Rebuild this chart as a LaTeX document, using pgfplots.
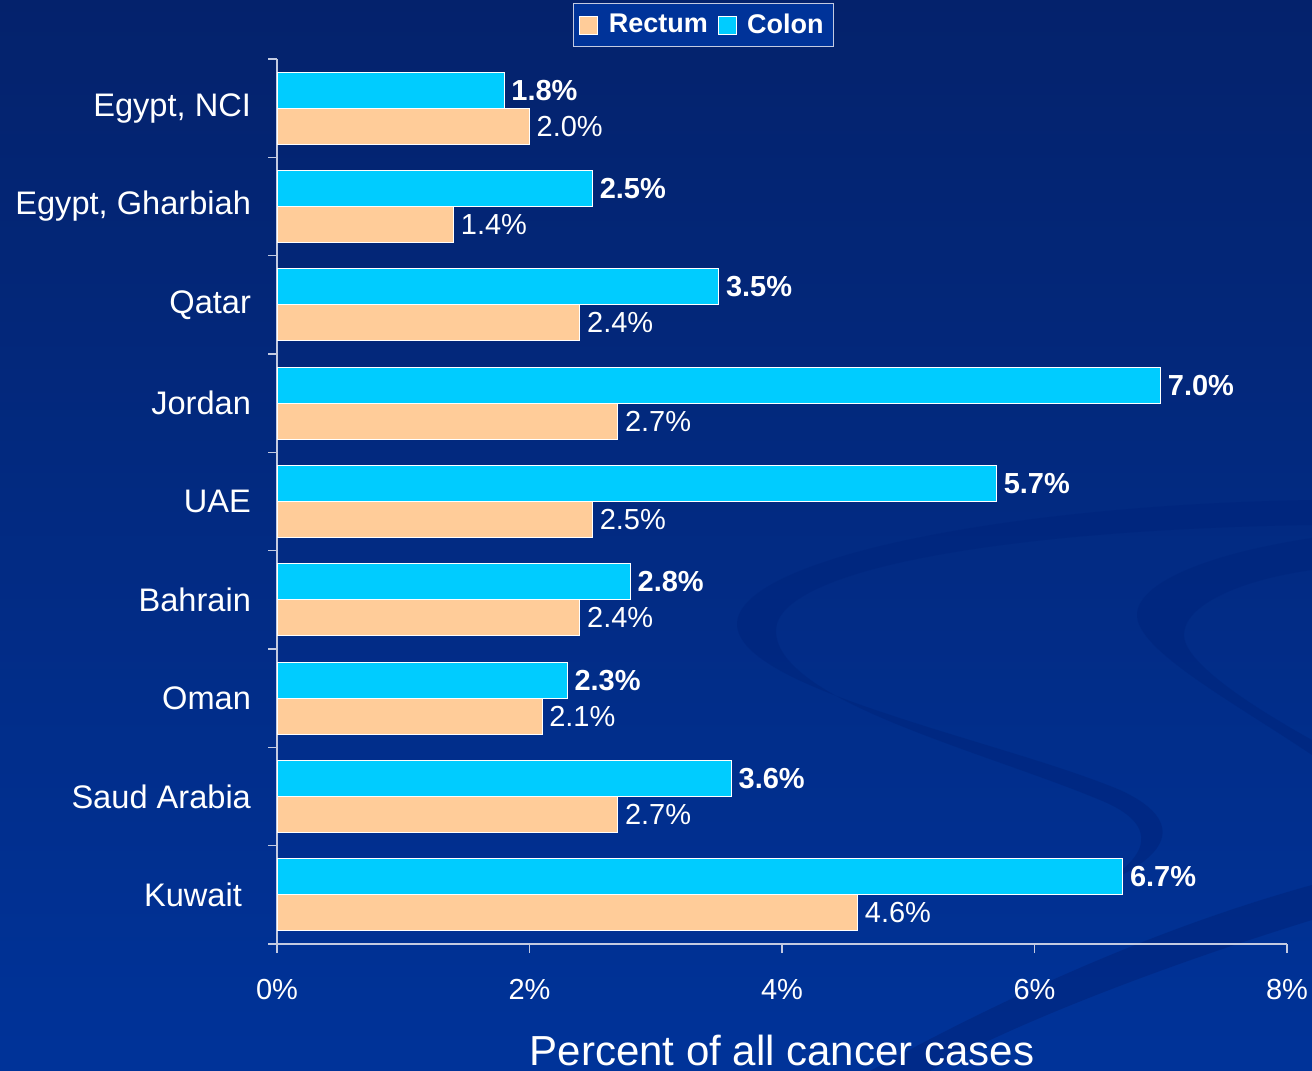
\documentclass[border=0pt]{standalone}
\usepackage{fontspec}
\setmainfont{Liberation Sans}
\usepackage{pgfplots}
\pgfplotsset{compat=1.18}
\definecolor{colon}{RGB}{0,204,255}
\definecolor{rectum}{RGB}{255,204,153}
\definecolor{bgtop}{RGB}{4,34,108}
\definecolor{bgbot}{RGB}{0,51,153}
\definecolor{axisgray}{RGB}{195,202,225}
\definecolor{swirl}{RGB}{0,36,124}
\begin{document}
\begin{tikzpicture}
\useasboundingbox (0,0) rectangle (656pt,535.5pt);
\shade[top color=bgtop, bottom color=bgbot] (0,0) rectangle (656pt,535.5pt);
\begin{scope}
\clip (0,0) rectangle (656pt,535.5pt);
\begin{scope}[x=0.5pt, y=-0.5pt, shift={(0pt,535.5pt)}]
\fill[swirl, opacity=0.55] (1312,500) .. controls (1000,505) and (735,560) .. (737,625)
  .. controls (740,690) and (1000,740) .. (1120,790)
  .. controls (1175,815) and (1185,850) .. (1100,885)
  .. controls (1160,850) and (1150,820) .. (1100,800)
  .. controls (980,750) and (775,700) .. (776,630)
  .. controls (778,570) and (1000,530) .. (1312,525) -- cycle;
\fill[swirl, opacity=0.55] (1312,538) .. controls (1200,555) and (1137,585) .. (1137,615)
  .. controls (1137,650) and (1230,700) .. (1312,755)
  -- (1312,740) .. controls (1240,700) and (1184,660) .. (1184,635)
  .. controls (1184,605) and (1240,580) .. (1312,570) -- cycle;
\fill[swirl, opacity=0.55] (1312,885) -- (1312,920) .. controls (1150,970) and (1000,1030) .. (930,1071)
  -- (870,1071) .. controls (1000,1000) and (1150,930) .. (1312,885) -- cycle;
\end{scope}
\end{scope}
\begin{axis}[
  at={(138.5pt,63.5pt)}, anchor=south west,
  scale only axis, width=505pt, height=442.5pt,
  xbar, bar width=18pt,
  xmin=0, xmax=8, ymin=-0.5, ymax=8.5,
  axis x line*=bottom, axis y line*=left,
  axis line style={axisgray, line width=0.8pt},
  every tick/.style={axisgray, line width=0.8pt},
  tick align=outside, major tick length=4.5pt,
  xtick={0,2,4,6,8}, xticklabels={0\%,2\%,4\%,6\%,8\%},
  xticklabel style={white, font=\fontsize{14.5}{17}\selectfont, yshift=-9.5pt},
  ytick={-0.5,0.5,...,8.5}, y tick label as interval,
  yticklabels={Kuwait\rule{4.5pt}{0pt}, Saud Arabia, Oman, Bahrain, UAE, Jordan, Qatar, {Egypt, Gharbiah}, {Egypt, NCI}},
  yticklabel style={white, font=\fontsize{16.3}{19}\selectfont, xshift=-5pt},
  xlabel={Percent of all cancer cases},
  x label style={at={(axis description cs:0.5,-0.137)}, anchor=base, white, font=\fontsize{21}{25}\selectfont},
  legend columns=2,
  legend style={at={(0.4223,1.0384)}, anchor=center, draw=axisgray, fill=bgbot, text=white,
    font=\bfseries\fontsize{13.5}{16}\selectfont, inner sep=3pt,
    /tikz/every even column/.append style={column sep=3pt}},
  nodes near coords={\pgfmathprintnumber[fixed,fixed zerofill,precision=1,assume math mode=true]{\pgfplotspointmeta}\%},
  every node near coord/.append style={white, font=\fontsize{14.5}{17}\selectfont},
]
\addplot[fill=rectum, draw=white, line width=0.5pt, bar shift=-9pt,
  legend image code/.code={\draw[fill=rectum, draw=white, line width=0.4pt] (0pt,-4.5pt) rectangle (9pt,4.5pt); \path[draw=none, fill=none] (0pt,0pt) -- (12.5pt,0pt);}]
  coordinates {(4.6,0) (2.7,1) (2.1,2) (2.4,3) (2.5,4) (2.7,5) (2.4,6) (1.4,7) (2.0,8)};
\addlegendentry{Rectum}
\addplot[fill=colon, draw=white, line width=0.5pt, bar shift=9pt,
  every node near coord/.append style={font=\bfseries\fontsize{14.5}{17}\selectfont},
  legend image code/.code={\draw[fill=colon, draw=white, line width=0.4pt] (0pt,-4.5pt) rectangle (9pt,4.5pt); \path[draw=none, fill=none] (0pt,0pt) -- (12.5pt,0pt);}]
  coordinates {(6.7,0) (3.6,1) (2.3,2) (2.8,3) (5.7,4) (7.0,5) (3.5,6) (2.5,7) (1.8,8)};
\addlegendentry{Colon}
\end{axis}
\end{tikzpicture}
\end{document}
